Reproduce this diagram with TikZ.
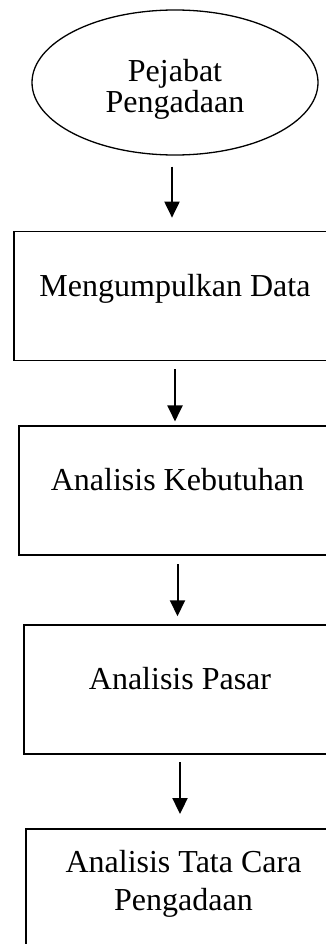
\documentclass[tikz,border=0pt]{standalone}
\usepackage{fontspec}
\setmainfont{Liberation Serif}
\usepackage{tikz}
\usetikzlibrary{shapes.geometric,arrows.meta,positioning}

\begin{document}
\begin{tikzpicture}[font=\fontsize{32}{38}\selectfont,
  awal/.style={ellipse,draw,line width=1.3pt,inner sep=0pt,minimum width=286pt,minimum height=145pt,align=center,font=\fontsize{32}{31.5}\selectfont,text height=68pt,text depth=7pt},
  proses/.style={rectangle,draw,line width=1.8pt,inner sep=0pt,minimum height=129pt,align=center,text height=22pt,text depth=22pt},
  arr/.style={-{Triangle[length=16pt,width=15pt]},line width=2pt}]
\useasboundingbox (0,0) rectangle (326pt,-944pt);
\clip (0,0) rectangle (326pt,-944pt);
\node[awal] (peja) at (175pt,-82.5pt) {Pejabat\\Pengadaan};
\node[proses,minimum width=322pt,below=75pt of peja] (kumpul) {Mengumpulkan Data};
\node[proses,minimum width=317pt,below=64pt of kumpul,xshift=2.5pt] (butuh) {Analisis Kebutuhan};
\node[proses,minimum width=312pt,below=68pt of butuh,xshift=2.5pt] (pasar) {Analisis Pasar};
\node[proses,minimum width=315pt,below=73pt of pasar,xshift=3.5pt,text height=57pt] (tatacara) {Analisis Tata Cara\\Pengadaan};
\draw[arr,shorten <=11pt,shorten >=13pt] ([xshift=-3pt]peja.south) -- ([xshift=-3pt]peja.south |- kumpul.north);
\draw[arr,shorten <=8pt,shorten >=4pt] (kumpul.south) -- (kumpul.south |- butuh.north);
\draw[arr,shorten <=8pt,shorten >=8pt] (butuh.south) -- (butuh.south |- pasar.north);
\draw[arr,shorten <=7pt,shorten >=14pt] (pasar.south) -- (pasar.south |- tatacara.north);
\end{tikzpicture}
\end{document}
